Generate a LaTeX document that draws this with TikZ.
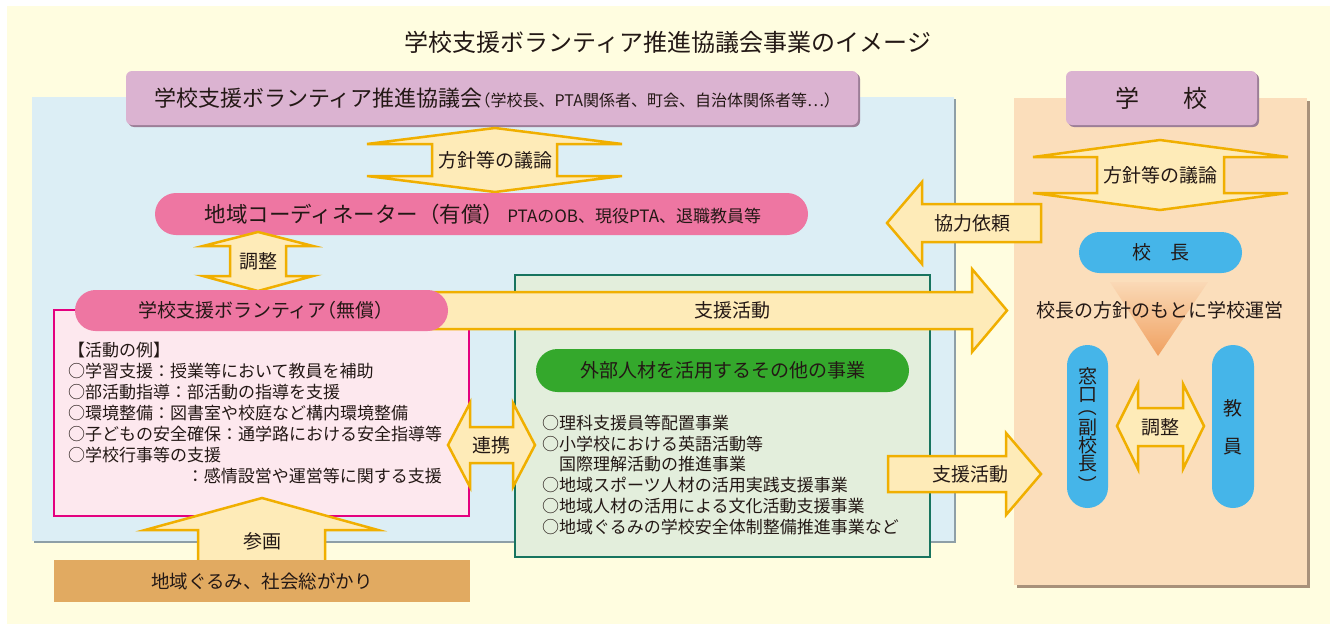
\documentclass[tikz,border=0pt]{standalone}
\usepackage{fontspec}
\setmainfont{Noto Sans CJK JP}
\definecolor{cream}{HTML}{FFFDE0}
\definecolor{bluepanel}{HTML}{DCEEF5}
\definecolor{blueshadow}{HTML}{8E9FA7}
\definecolor{peach}{HTML}{FBDEBB}
\definecolor{peachshadow}{HTML}{A8917A}
\definecolor{purp}{HTML}{DBB3D1}
\definecolor{purpshadow}{HTML}{9C7E97}
\definecolor{pinkpill}{HTML}{EE76A2}
\definecolor{pinkfill}{HTML}{FDE8EE}
\definecolor{magentaline}{HTML}{E4007F}
\definecolor{greenfill}{HTML}{E3EEDC}
\definecolor{greenline}{HTML}{17745F}
\definecolor{greenpill}{HTML}{34A82C}
\definecolor{arrowfill}{HTML}{FEEBB8}
\definecolor{arrowline}{HTML}{F0AF00}
\definecolor{brownbox}{HTML}{E1AA61}
\definecolor{bluepill}{HTML}{45B5E9}
\definecolor{ink}{HTML}{231815}
\definecolor{triTop}{HTML}{FAD9B6}
\definecolor{triBot}{HTML}{F0A060}
\newcommand{\fsz}[1]{\fontsize{#1}{#1}\selectfont}
\newcommand{\lp}{\makebox[0.5em][r]{（}}
\newcommand{\rp}{\makebox[0.5em][l]{）}}
\tikzset{
  lbl/.style={inner sep=0pt, text=ink, font=\fsz{19}},
  listline/.style={inner sep=0pt, text=ink, font=\fsz{17}, anchor=base west},
  blockarrow/.style={fill=arrowfill, draw=arrowline, line width=2.5pt, line join=miter},
  pillbox/.style={inner sep=0pt, draw=none},
}
\begin{document}
\begin{tikzpicture}[x=1pt,y=-1pt]
\useasboundingbox (0,0) rectangle (1336,624);
\fill[white] (0,0) rectangle (1336,624);
\fill[cream] (7,6) rectangle (1330,624);

\node[lbl, font=\fsz{24}] (title) at (668,42) {学校支援ボランティア推進協議会事業のイメージ};

% panels
\fill[blueshadow] (34,99) rectangle (956,543);
\fill[bluepanel] (32,97) rectangle (954,541);
\fill[peachshadow] (1017,101) rectangle (1310,588);
\fill[peach] (1014,98) rectangle (1307,585);

% header boxes
\fill[purpshadow, rounded corners=6pt] (128,73) rectangle (860,127);
\fill[purp, rounded corners=6pt] (126,71) rectangle (858,125);
\node[lbl, font=\fsz{22}] (council) at (493,98) {学校支援ボランティア推進協議会{\fsz{16}\lp 学校長、PTA関係者、町会、自治体関係者等…\rp}};
\fill[purpshadow, rounded corners=6pt] (1068,73) rectangle (1259,127);
\fill[purp, rounded corners=6pt] (1066,71) rectangle (1257,125);
\node[lbl, font=\fsz{24}] (school) at (1161,98) {学\hspace{44pt}校};

% policy arrow (left)
\draw[blockarrow] (495,128) -- (622,144) -- (557,144) -- (557,176) -- (622,176) -- (495,192) -- (367,176) -- (432,176) -- (432,144) -- (367,144) -- cycle;
\node[lbl] (policy1) at (495,160) {方針等の議論};

% coordinator pill
\node[pillbox, fill=pinkpill, rounded corners=21pt, minimum width=653pt, minimum height=42pt] (coord) at (481.5,214) {};
\node[lbl, font=\fsz{21.5}] (coordtxt) at (483,214) {地域コーディネーター（有償）\hspace{3pt}{\fsz{17}PTAのOB、現役PTA、退職教員等}};

% green box
\filldraw[fill=greenfill, draw=greenline, line width=2.2pt] (515,275) rectangle (930,557);

% pink activity box
\filldraw[fill=pinkfill, draw=magentaline, line width=2pt] (54,310) rectangle (469,516);

% big support arrow
\draw[blockarrow] (420,292) -- (972,292) -- (972,269) -- (1007,310.5) -- (972,352) -- (972,329) -- (420,329) -- cycle;
\node[lbl] (support1) at (732,310.5) {支援活動};

% adjust arrow (left)
\draw[blockarrow] (258,232) -- (313,246) -- (286,246) -- (286,276) -- (313,276) -- (258,291) -- (203,276) -- (230,276) -- (230,246) -- (203,246) -- cycle;
\node[lbl] (adj1) at (258,261) {調整};

% volunteer pill
\node[pillbox, fill=pinkpill, rounded corners=20.5pt, minimum width=373pt, minimum height=41pt] (vol) at (261.5,310.5) {};
\node[lbl] (voltxt) at (261,310.5) {学校支援ボランティア\lp 無償\rp};

% activity list
\node[listline] (a0) at (68,356.5) {【活動の例】};
\node[listline] (a1) at (68,377.5) {○学習支援：授業等において教員を補助};
\node[listline] (a2) at (68,398.5) {○部活動指導：部活動の指導を支援};
\node[listline] (a3) at (68,419.5) {○環境整備：図書室や校庭など構内環境整備};
\node[listline] (a4) at (68,440.5) {○子どもの安全確保：通学路における安全指導等};
\node[listline] (a5) at (68,461.5) {○学校行事等の支援};
\node[listline, anchor=base east] (a6) at (442,482.5) {：感情設営や運営等に関する支援};

% renkei arrow
\draw[blockarrow] (448,445) -- (470,403) -- (470,427) -- (513,427) -- (513,403) -- (535,445) -- (513,487) -- (513,463) -- (470,463) -- (470,487) -- cycle;
\node[lbl] (renkei) at (491.5,445) {連携};

% sankaku arrow
\draw[blockarrow] (262,498) -- (378,530) -- (325,530) -- (325,565) -- (198,565) -- (198,530) -- (145,530) -- cycle;
\node[lbl] (sankaku) at (262,541) {参画};
\fill[brownbox] (54,560) rectangle (470,602);
\node[lbl, font=\fsz{18.5}] (community) at (262,581) {地域ぐるみ、社会総がかり};

% green pill and list
\node[pillbox, fill=greenpill, rounded corners=21.5pt, minimum width=373pt, minimum height=43pt] (gpill) at (722.5,370.5) {};
\node[lbl] (gpilltxt) at (722.5,370.5) {外部人材を活用するその他の事業};
\node[listline] (g1) at (542,429.5) {○理科支援員等配置事業};
\node[listline] (g2) at (542,450.5) {○小学校における英語活動等};
\node[listline] (g3) at (559,470.5) {国際理解活動の推進事業};
\node[listline] (g4) at (542,491.5) {○地域スポーツ人材の活用実践支援事業};
\node[listline] (g5) at (542,512.5) {○地域人材の活用による文化活動支援事業};
\node[listline] (g6) at (542,533.5) {○地域ぐるみの学校安全体制整備推進事業など};

% right side
\draw[blockarrow] (1160,140) -- (1288,157) -- (1224,157) -- (1224,193) -- (1288,193) -- (1160,210) -- (1033,193) -- (1097,193) -- (1097,157) -- (1033,157) -- cycle;
\node[lbl] (policy2) at (1160,175) {方針等の議論};

\draw[blockarrow] (887,223) -- (922,182) -- (922,204) -- (1041,204) -- (1041,242) -- (922,242) -- (922,264) -- cycle;
\node[lbl] (request) at (972,223) {協力依頼};

\node[pillbox, fill=bluepill, rounded corners=20.5pt, minimum width=163pt, minimum height=41pt] (principal) at (1160.5,252.5) {};
\node[lbl] (principaltxt) at (1161,252.5) {校　長};

\shade[top color=triTop, bottom color=triBot] (1110,282) -- (1208,282) -- (1158,356) -- cycle;
\node[lbl] (policy3) at (1160,310) {校長の方針のもとに学校運営};

\node[pillbox, fill=bluepill, rounded corners=20.5pt, minimum width=41pt, minimum height=163pt] (window) at (1087.5,426.5) {};
\node[lbl] (w1) at (1087.5,376) {窓};
\node[lbl] (w2) at (1087.5,395) {口};
\node[lbl, inner sep=0pt, rotate=-90] (w3) at (1087.5,407) {（};
\node[lbl] (w4) at (1087.5,427.5) {副};
\node[lbl] (w5) at (1087.5,445.5) {校};
\node[lbl] (w6) at (1087.5,463.5) {長};
\node[lbl, inner sep=0pt, rotate=-90] (w7) at (1087.5,485) {）};

\node[pillbox, fill=bluepill, rounded corners=21pt, minimum width=42pt, minimum height=163pt] (teachers) at (1233,426.5) {};
\node[lbl] (t1) at (1233,408) {教};
\node[lbl] (t2) at (1233,447) {員};

\draw[blockarrow] (1117,426) -- (1138,384) -- (1138,408) -- (1183,408) -- (1183,384) -- (1204,426) -- (1183,469) -- (1183,446) -- (1138,446) -- (1138,469) -- cycle;
\node[lbl] (adj2) at (1160.5,427) {調整};

\draw[blockarrow] (888,456) -- (1006,456) -- (1006,433) -- (1041,474) -- (1006,515) -- (1006,492) -- (888,492) -- cycle;
\node[lbl] (support2) at (970,474) {支援活動};
\end{tikzpicture}
\end{document}
